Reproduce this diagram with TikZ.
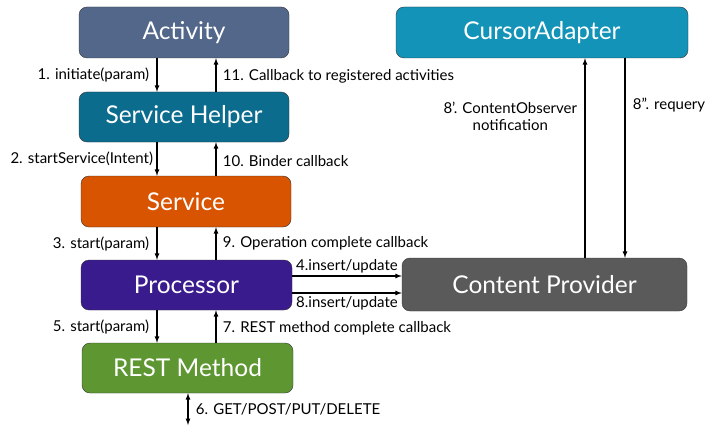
\documentclass[tikz,border=0pt]{standalone}
\usepackage{fontspec}
\setmainfont{Lato}
\usetikzlibrary{arrows}

\definecolor{activitycol}{HTML}{52678A}
\definecolor{helpercol}{HTML}{0B6C8D}
\definecolor{servicecol}{HTML}{D85400}
\definecolor{processorcol}{HTML}{3A1B8E}
\definecolor{restcol}{HTML}{5E9732}
\definecolor{cursorcol}{HTML}{1393B7}
\definecolor{providercol}{HTML}{5A5A5A}

\begin{document}
\begin{tikzpicture}[x=1pt, y=-1pt,
  box/.style={draw=black!80, rounded corners=8pt, text=white, font=\fontsize{24.5}{28}\selectfont, inner sep=0pt},
  lbl/.style={font=\fontsize{15}{17}\selectfont, text=black},
  conn/.style={-latex, line width=1.2pt}]
\useasboundingbox (0,0) rectangle (708,425);

\node[box, fill=activitycol, minimum width=210, minimum height=51] (activity) at (184,32.5) {Activity};
\node[box, fill=helpercol, minimum width=210, minimum height=50] (helper) at (184,117) {Service Helper};
\node[box, fill=servicecol, minimum width=210, minimum height=51] (service) at (186,201.5) {Service};
\node[box, fill=processorcol, minimum width=211, minimum height=50] (processor) at (186.5,285) {Processor};
\node[box, fill=restcol, minimum width=211, minimum height=50] (rest) at (187.5,368) {REST Method};
\node[box, fill=cursorcol, minimum width=292, minimum height=51] (cursor) at (542,32.5) {CursorAdapter};
\node[box, fill=providercol, minimum width=285, minimum height=53] (provider) at (544.5,284.5) {Content Provider};

\coordinate (dn) at (157,0);
\coordinate (up) at (216,0);
\coordinate (ins) at (0,276);
\coordinate (upd) at (0,293);
\coordinate (obs) at (585,0);
\coordinate (req) at (625,0);
\coordinate (net) at (188,425);

\draw[conn] (activity.south -| dn) -- (helper.north -| dn) node[lbl, midway, left=4pt] {1. initiate(param)};
\draw[conn] (helper.north -| up) -- (activity.south -| up) node[lbl, pos=0.45, right=3pt] {11. Callback to registered activities};
\draw[conn] (helper.south -| dn) -- (service.north -| dn) node[lbl, midway, left=0pt] {2. startService(Intent)};
\draw[conn] (service.north -| up) -- (helper.south -| up) node[lbl, pos=0.45, right=3pt] {10. Binder callback};
\draw[conn] (service.south -| dn) -- (processor.north -| dn) node[lbl, midway, left=4pt] {3. start(param)};
\draw[conn] (processor.north -| up) -- (service.south -| up) node[lbl, pos=0.5, right=3pt] {9. Operation complete callback};
\draw[conn] (processor.south -| dn) -- (rest.north -| dn) node[lbl, midway, left=4pt] {5. start(param)};
\draw[conn] (rest.north -| up) -- (processor.south -| up) node[lbl, pos=0.45, right=3pt] {7. REST method complete callback};
\draw[conn] (processor.east |- ins) -- (provider.west |- ins) node[lbl, midway, above=-1pt] {4.insert/update};
\draw[conn] (processor.east |- upd) -- (provider.west |- upd) node[lbl, midway, below=0pt] {8.insert/update};
\draw[conn] (provider.north -| obs) -- (cursor.south -| obs) node[lbl, pos=0.71, left=4pt, align=center] {8'. ContentObserver\\notification};
\draw[conn] (cursor.south -| req) -- (provider.north -| req) node[lbl, pos=0.235, right=4pt] {8''. requery};
\draw[latex-latex, line width=1.2pt] (rest.south -| net) -- (net) node[lbl, midway, right=4pt] {6. GET/POST/PUT/DELETE};
\end{tikzpicture}
\end{document}
